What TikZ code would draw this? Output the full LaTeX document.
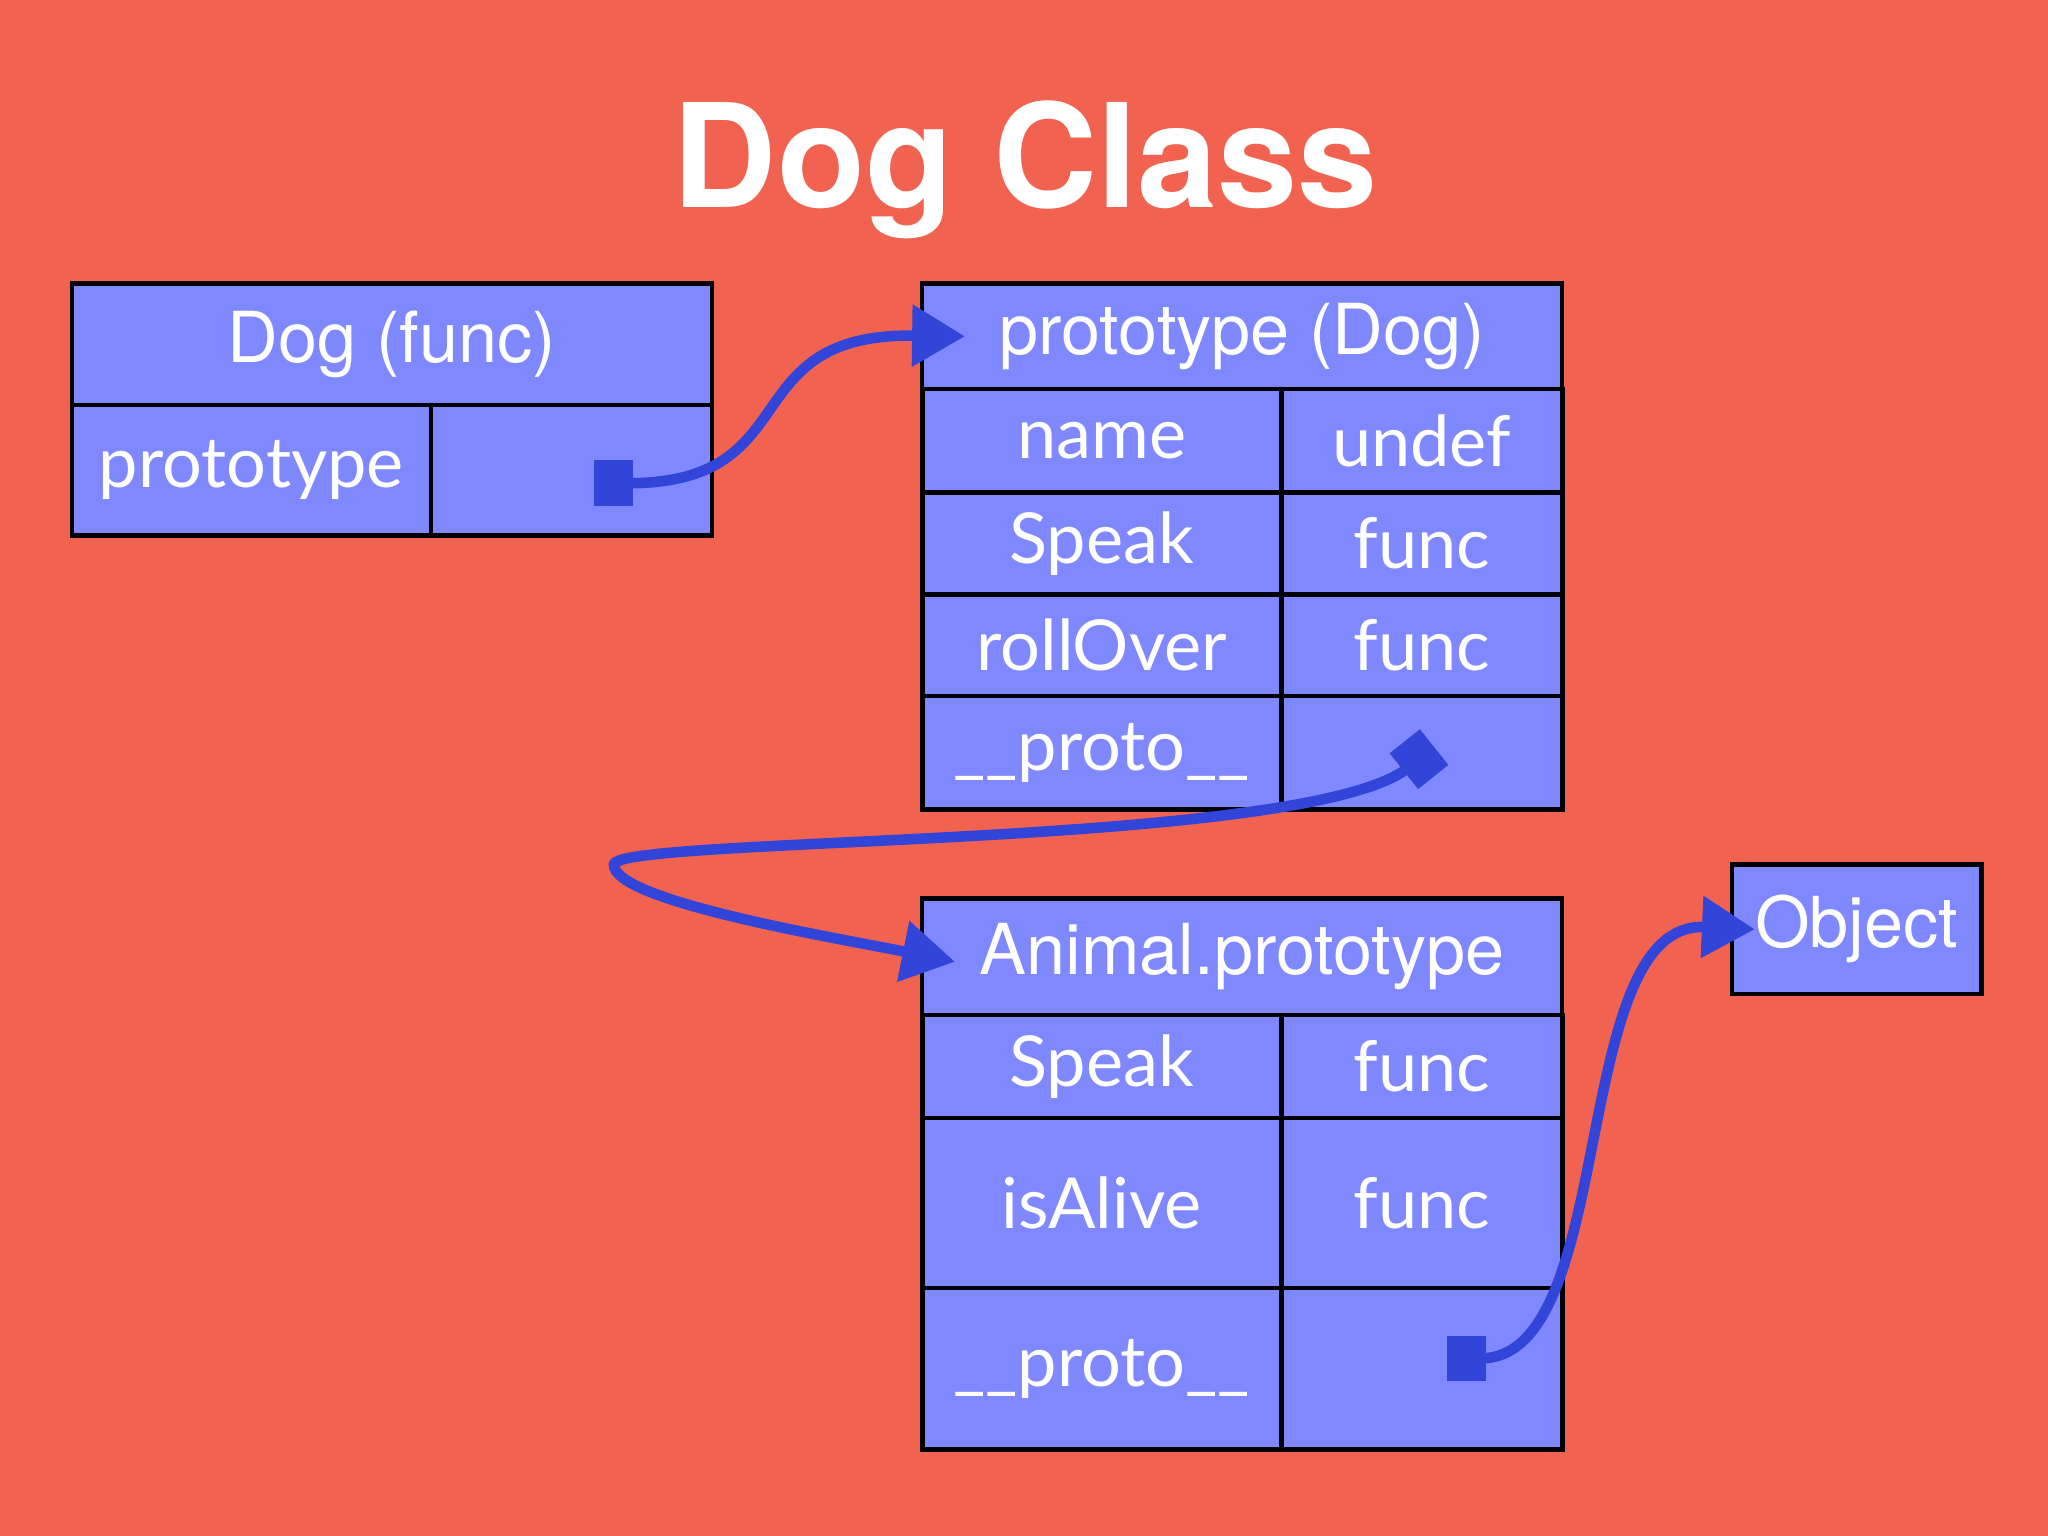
\documentclass[tikz,border=0pt]{standalone}
\usepackage{fontspec}
\setmainfont{TeX Gyre Heros}
\newfontfamily\cellfont{Lato}
\usetikzlibrary{arrows.meta}
\definecolor{slide}{HTML}{F26250}
\definecolor{boxblue}{HTML}{7F88FF}
\definecolor{inkblue}{HTML}{3344D8}
\tikzstyle{cell} = [rectangle, draw=black, line width=1.3pt, fill=boxblue, text=white, inner sep=0pt, font=\fontsize{20}{24}\selectfont\cellfont]
\tikzstyle{head} = [cell, font=\fontsize{20}{24}\selectfont]
\tikzstyle{link} = [inkblue, line width=3pt, {Square[length=11pt,width=13pt]}-{Triangle[length=15pt,width=17pt]}]

\begin{document}
\begin{tikzpicture}[x=0.01306cm, y=-0.01306cm]
		\fill[slide] (0,0) rectangle (1568,1176);
		\node (title) [text=white, font=\fontsize{41}{48}\selectfont\bfseries] at (785,130) {Dog Class};

		% Dog function
		\node (dog) [head, minimum width=6.40cm, minimum height=1.215cm] at (300,263.5) {Dog (func)};
		\node (dogkey) [cell, minimum width=3.59cm, minimum height=1.306cm] at (192.5,360) {prototype};
		\node (dogval) [cell, minimum width=2.81cm, minimum height=1.306cm] at (437.5,360) {};

		% prototype (Dog)
		\node (proto) [head, minimum width=6.40cm, minimum height=1.058cm] at (951,257.5) {prototype (Dog)};
		\node (pname) [cell, minimum width=3.59cm, minimum height=1.032cm] at (843.5,337.5) {name};
		\node (pnamev) [cell, minimum width=2.81cm, minimum height=1.032cm] at (1088.5,337.5) {undef};
		\node (pspeak) [cell, minimum width=3.59cm, minimum height=1.019cm] at (843.5,416) {Speak};
		\node (pspeakv) [cell, minimum width=2.81cm, minimum height=1.019cm] at (1088.5,416) {func};
		\node (proll) [cell, minimum width=3.59cm, minimum height=1.019cm] at (843.5,494) {rollOver};
		\node (prollv) [cell, minimum width=2.81cm, minimum height=1.019cm] at (1088.5,494) {func};
		\node (pproto) [cell, minimum width=3.59cm, minimum height=1.136cm] at (843.5,576.5) {\_\_proto\_\_};
		\node (pprotov) [cell, minimum width=2.81cm, minimum height=1.136cm] at (1088.5,576.5) {};

		% Animal.prototype
		\node (animal) [head, minimum width=6.40cm, minimum height=1.162cm] at (951,732.5) {Animal.prototype};
		\node (aspeak) [cell, minimum width=3.59cm, minimum height=1.032cm] at (843.5,816.5) {Speak};
		\node (aspeakv) [cell, minimum width=2.81cm, minimum height=1.032cm] at (1088.5,816.5) {func};
		\node (alive) [cell, minimum width=3.59cm, minimum height=1.698cm] at (843.5,921) {isAlive};
		\node (alivev) [cell, minimum width=2.81cm, minimum height=1.698cm] at (1088.5,921) {func};
		\node (aproto) [cell, minimum width=3.59cm, minimum height=1.619cm] at (843.5,1048) {\_\_proto\_\_};
		\node (aprotov) [cell, minimum width=2.81cm, minimum height=1.619cm] at (1088.5,1048) {};

		\node (object) [head, minimum width=2.494cm, minimum height=1.293cm] at (1421.5,711.5) {Object};

		\coordinate (dogptr) at (455,370);
		\coordinate (pptr) at (1098,572);
		\coordinate (aptr) at (1108,1040);

		\draw [link] (dogptr) .. controls (620,370) and (560,255) .. ([xshift=0.45cm]proto.west);
		\draw [link] (pptr) .. controls (1000,650) and (470,640) .. (470,662) .. controls (470,690) and (640,718) .. ([xshift=0.35cm,yshift=-0.05cm]animal.west);
		\draw [link] (aptr) .. controls (1240,1040) and (1200,705) .. ([xshift=0.25cm]object.west);
	\end{tikzpicture}
\end{document}
